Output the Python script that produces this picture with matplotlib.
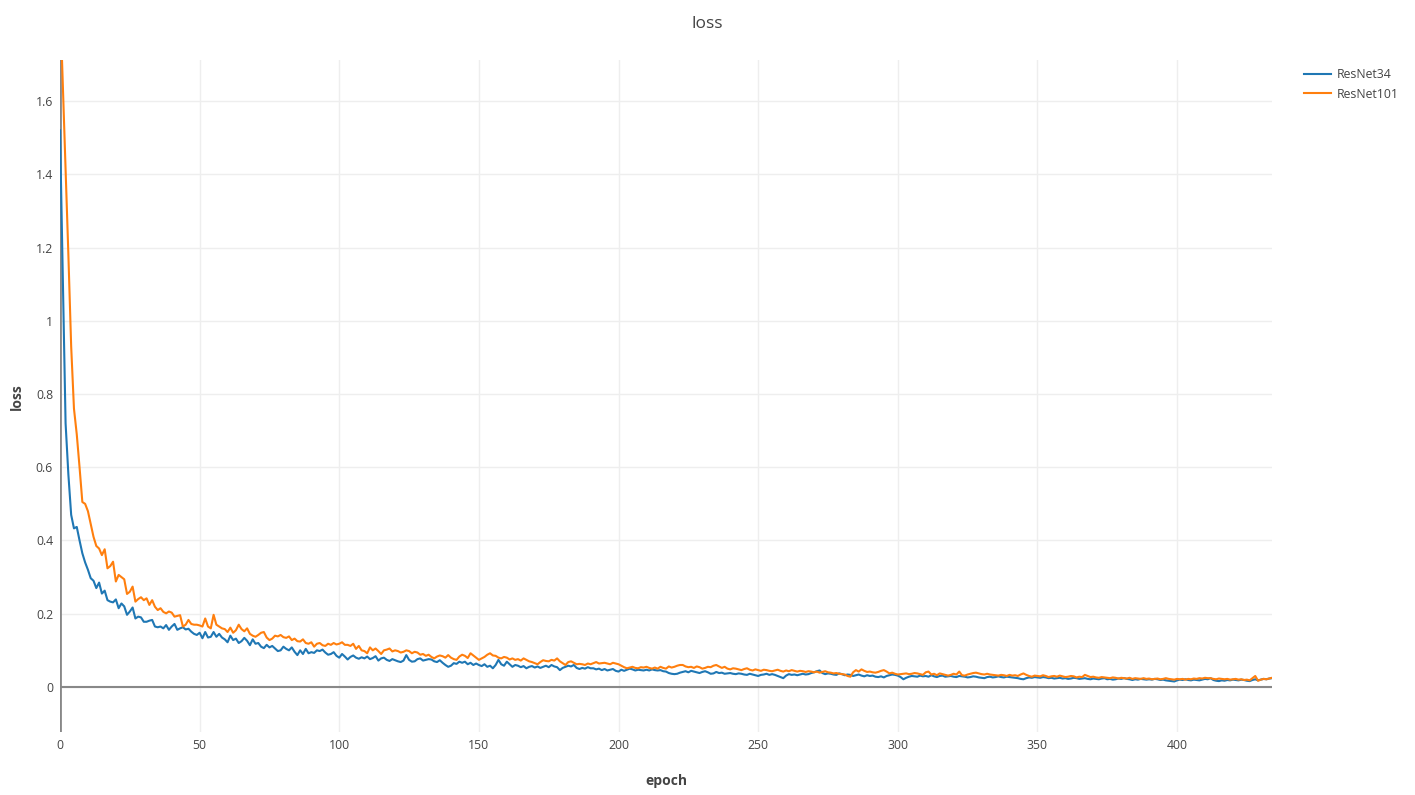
import matplotlib
matplotlib.use("Agg")
from matplotlib import pyplot as plt
from matplotlib.ticker import FuncFormatter
import numpy as np

plt.rcParams['font.family'] = ['Open Sans', 'DejaVu Sans']

# loss per epoch
resnet34 = [
    1.52, 1.12, 0.72, 0.58, 0.47, 0.433, 0.437, 0.40, 0.365, 0.34,
    0.32, 0.297, 0.29, 0.27, 0.285, 0.255, 0.263, 0.237, 0.233, 0.231,
    0.239, 0.215, 0.228, 0.22, 0.197, 0.206, 0.217, 0.187, 0.192, 0.19,
    0.178, 0.178, 0.181, 0.183, 0.165, 0.163, 0.165, 0.16, 0.169, 0.156,
    0.165, 0.172, 0.156, 0.16, 0.163, 0.157, 0.159, 0.151, 0.145, 0.142,
    0.148, 0.133, 0.15, 0.135, 0.137, 0.15, 0.137, 0.145, 0.135, 0.13,
    0.122, 0.14, 0.128, 0.132, 0.12, 0.125, 0.134, 0.126, 0.114, 0.13,
    0.118, 0.12, 0.11, 0.106, 0.115, 0.108, 0.112, 0.105, 0.098, 0.1,
    0.11, 0.104, 0.1, 0.108, 0.096, 0.087, 0.1, 0.09, 0.104, 0.092,
    0.095, 0.093, 0.1, 0.098, 0.102, 0.094, 0.088, 0.09, 0.095, 0.085,
    0.08, 0.09, 0.083, 0.075, 0.082, 0.086, 0.08, 0.077, 0.081, 0.078,
    0.083, 0.076, 0.079, 0.084, 0.072, 0.078, 0.08, 0.074, 0.071, 0.076,
    0.073, 0.07, 0.068, 0.072, 0.087, 0.074, 0.069, 0.07, 0.076, 0.078,
    0.072, 0.074, 0.076, 0.075, 0.07, 0.068, 0.073, 0.066, 0.06, 0.055,
    0.058, 0.065, 0.063, 0.069, 0.066, 0.069, 0.062, 0.066, 0.06, 0.064,
    0.06, 0.057, 0.062, 0.055, 0.058, 0.051, 0.06, 0.074, 0.062, 0.058,
    0.069, 0.062, 0.055, 0.06, 0.058, 0.054, 0.057, 0.051, 0.055, 0.057,
    0.053, 0.056, 0.052, 0.055, 0.058, 0.054, 0.06, 0.056, 0.054, 0.046,
    0.052, 0.055, 0.058, 0.056, 0.06, 0.052, 0.049, 0.052, 0.05, 0.054,
    0.051, 0.051, 0.048, 0.05, 0.046, 0.049, 0.045, 0.047, 0.049, 0.044,
    0.042, 0.047, 0.044, 0.047, 0.05, 0.048, 0.045, 0.047, 0.046, 0.045,
    0.047, 0.045, 0.048, 0.046, 0.045, 0.046, 0.043, 0.042, 0.038, 0.036,
    0.035, 0.036, 0.039, 0.041, 0.043, 0.04, 0.044, 0.042, 0.04, 0.038,
    0.041, 0.043, 0.04, 0.036, 0.037, 0.041, 0.038, 0.039, 0.036, 0.037,
    0.038, 0.036, 0.035, 0.037, 0.036, 0.034, 0.033, 0.036, 0.034, 0.032,
    0.03, 0.033, 0.034, 0.036, 0.033, 0.035, 0.033, 0.03, 0.027, 0.024,
    0.031, 0.035, 0.033, 0.034, 0.032, 0.034, 0.036, 0.034, 0.035, 0.038,
    0.04, 0.043, 0.045, 0.038, 0.035, 0.037, 0.036, 0.034, 0.033, 0.037,
    0.035, 0.032, 0.034, 0.033, 0.03, 0.032, 0.034, 0.031, 0.029, 0.032,
    0.03, 0.031, 0.028, 0.027, 0.029, 0.026, 0.03, 0.032, 0.034, 0.033,
    0.031, 0.027, 0.021, 0.025, 0.028, 0.03, 0.029, 0.028, 0.031, 0.029,
    0.03, 0.028, 0.032, 0.029, 0.027, 0.03, 0.031, 0.028, 0.029, 0.03,
    0.028, 0.027, 0.03, 0.029, 0.028, 0.026, 0.027, 0.029, 0.028, 0.026,
    0.025, 0.024, 0.027, 0.028, 0.026, 0.027, 0.029, 0.027, 0.026, 0.028,
    0.027, 0.026, 0.025, 0.024, 0.022, 0.021, 0.024, 0.026, 0.025, 0.027,
    0.026, 0.025, 0.027, 0.026, 0.024, 0.025, 0.023, 0.024, 0.025, 0.023,
    0.024, 0.022, 0.023, 0.025, 0.024, 0.022, 0.023, 0.024, 0.022, 0.021,
    0.023, 0.022, 0.021, 0.023, 0.024, 0.021, 0.022, 0.02, 0.021, 0.023,
    0.022, 0.024, 0.022, 0.021, 0.019, 0.021, 0.02, 0.022, 0.021, 0.02,
    0.021, 0.02, 0.022, 0.021, 0.019, 0.02, 0.018, 0.017, 0.016, 0.015,
    0.018, 0.02, 0.019, 0.021, 0.019, 0.018, 0.02, 0.019, 0.018, 0.02,
    0.022, 0.021, 0.024, 0.019, 0.017, 0.016, 0.018, 0.017, 0.019, 0.018,
    0.02, 0.019, 0.018, 0.02, 0.019, 0.017, 0.016, 0.019, 0.021, 0.018,
    0.02, 0.022, 0.021, 0.023, 0.024,
]

resnet101 = [
    1.88, 1.645, 1.41, 1.18, 0.93, 0.76, 0.69, 0.60, 0.505, 0.50,
    0.48, 0.445, 0.41, 0.385, 0.378, 0.36, 0.376, 0.324, 0.33, 0.342,
    0.288, 0.306, 0.30, 0.294, 0.254, 0.26, 0.274, 0.233, 0.24, 0.245,
    0.237, 0.242, 0.224, 0.237, 0.219, 0.21, 0.215, 0.205, 0.201, 0.206,
    0.203, 0.192, 0.194, 0.196, 0.165, 0.17, 0.183, 0.172, 0.17, 0.17,
    0.168, 0.165, 0.187, 0.165, 0.16, 0.197, 0.17, 0.165, 0.16, 0.158,
    0.15, 0.162, 0.148, 0.155, 0.17, 0.158, 0.152, 0.16, 0.145, 0.14,
    0.137, 0.142, 0.148, 0.15, 0.135, 0.128, 0.132, 0.14, 0.138, 0.142,
    0.136, 0.134, 0.138, 0.128, 0.132, 0.125, 0.124, 0.13, 0.12, 0.118,
    0.122, 0.11, 0.118, 0.12, 0.114, 0.112, 0.118, 0.115, 0.12, 0.116,
    0.118, 0.122, 0.115, 0.115, 0.112, 0.118, 0.104, 0.112, 0.1, 0.098,
    0.092, 0.108, 0.1, 0.105, 0.098, 0.09, 0.1, 0.102, 0.105, 0.097,
    0.1, 0.098, 0.094, 0.096, 0.1, 0.098, 0.092, 0.096, 0.094, 0.088,
    0.09, 0.085, 0.088, 0.082, 0.078, 0.083, 0.086, 0.084, 0.08, 0.087,
    0.08, 0.076, 0.074, 0.083, 0.088, 0.085, 0.079, 0.092, 0.086, 0.08,
    0.074, 0.078, 0.082, 0.088, 0.092, 0.086, 0.085, 0.08, 0.078, 0.082,
    0.08, 0.075, 0.078, 0.074, 0.076, 0.072, 0.078, 0.074, 0.07, 0.068,
    0.065, 0.062, 0.068, 0.073, 0.071, 0.07, 0.074, 0.072, 0.078, 0.07,
    0.065, 0.06, 0.068, 0.07, 0.066, 0.062, 0.063, 0.062, 0.06, 0.064,
    0.062, 0.065, 0.068, 0.064, 0.065, 0.066, 0.064, 0.062, 0.066, 0.064,
    0.062, 0.058, 0.054, 0.051, 0.053, 0.055, 0.052, 0.051, 0.054, 0.053,
    0.055, 0.052, 0.05, 0.053, 0.05, 0.055, 0.052, 0.05, 0.056, 0.053,
    0.055, 0.058, 0.06, 0.06, 0.056, 0.054, 0.055, 0.052, 0.056, 0.054,
    0.05, 0.052, 0.055, 0.054, 0.058, 0.06, 0.056, 0.052, 0.055, 0.05,
    0.048, 0.051, 0.05, 0.048, 0.046, 0.049, 0.051, 0.047, 0.045, 0.048,
    0.046, 0.044, 0.047, 0.046, 0.044, 0.043, 0.045, 0.047, 0.044, 0.042,
    0.045, 0.043, 0.046, 0.044, 0.042, 0.044, 0.043, 0.041, 0.043, 0.042,
    0.04, 0.042, 0.039, 0.041, 0.043, 0.04, 0.039, 0.037, 0.038, 0.036,
    0.035, 0.034, 0.03, 0.028, 0.04, 0.046, 0.042, 0.048, 0.044, 0.041,
    0.042, 0.04, 0.039, 0.041, 0.044, 0.046, 0.042, 0.037, 0.039, 0.036,
    0.034, 0.035, 0.036, 0.037, 0.035, 0.036, 0.038, 0.037, 0.035, 0.033,
    0.04, 0.042, 0.034, 0.036, 0.032, 0.037, 0.035, 0.033, 0.031, 0.033,
    0.036, 0.034, 0.042, 0.032, 0.031, 0.034, 0.036, 0.038, 0.039, 0.037,
    0.035, 0.034, 0.036, 0.034, 0.033, 0.032, 0.031, 0.033, 0.032, 0.03,
    0.033, 0.031, 0.032, 0.03, 0.034, 0.037, 0.033, 0.03, 0.028, 0.031,
    0.03, 0.029, 0.032, 0.03, 0.027, 0.029, 0.03, 0.028, 0.031, 0.029,
    0.027, 0.028, 0.03, 0.029, 0.026, 0.028, 0.027, 0.033, 0.03, 0.027,
    0.028, 0.026, 0.025, 0.027, 0.026, 0.025, 0.024, 0.026, 0.025, 0.023,
    0.025, 0.024, 0.023, 0.025, 0.022, 0.024, 0.023, 0.022, 0.024, 0.022,
    0.023, 0.021, 0.022, 0.023, 0.021, 0.022, 0.024, 0.022, 0.021, 0.02,
    0.022, 0.021, 0.022, 0.02, 0.022, 0.021, 0.023, 0.022, 0.024, 0.023,
    0.025, 0.024, 0.024, 0.022, 0.021, 0.023, 0.022, 0.021, 0.022, 0.02,
    0.021, 0.022, 0.02, 0.021, 0.019, 0.02, 0.018, 0.024, 0.03, 0.017,
    0.02, 0.022, 0.021, 0.023, 0.025,
]

epochs = np.arange(len(resnet34))

fig = plt.figure(figsize=(14.15, 7.95), dpi=100)
ax = fig.add_axes([60/1415, 1 - 732/795, (1272-60)/1415, (732-60)/795])

ax.plot(epochs, resnet34, color='#1f77b4', lw=1.5, label='ResNet34')
ax.plot(np.arange(len(resnet101)), resnet101, color='#ff7f0e', lw=1.5, label='ResNet101')

ax.set_xlim(0, 434)
ax.set_ylim(-0.123, 1.712)
ax.set_xticks(np.arange(0, 401, 50))
ax.set_yticks(np.arange(0, 1.61, 0.2))
ax.yaxis.set_major_formatter(FuncFormatter(lambda v, p: ('%g' % round(v, 2))))

ax.grid(True, color='#eeeeee', lw=1)
ax.set_axisbelow(True)
for s in ax.spines.values():
    s.set_visible(False)
ax.axhline(0, color='#888888', lw=1.5, zorder=1.5)
ax.axvline(0, color='#888888', lw=2, zorder=1.5)

ax.tick_params(length=0, labelsize=8.8, colors='#444444', pad=5)

# axis titles placed where the reference has them
fig.text(666/1415, 1 - 781/795, 'epoch', ha='center', va='center',
         fontsize=10, fontweight='bold', color='#444444')
fig.text(17/1415, 1 - 397/795, 'loss', ha='center', va='center', rotation=90,
         fontsize=10, fontweight='bold', color='#444444')
fig.suptitle('loss', x=0.5, y=1 - 24/795, va='center', fontsize=12.5, color='#444444')

leg = fig.legend(loc='upper left', bbox_to_anchor=(1293/1415, 1 - 57/795), frameon=False,
                 fontsize=8.8, handlelength=2.2, handletextpad=0.5, labelspacing=0.55)
for t in leg.get_texts():
    t.set_color('#444444')

fig.savefig('out.png', dpi=100)
